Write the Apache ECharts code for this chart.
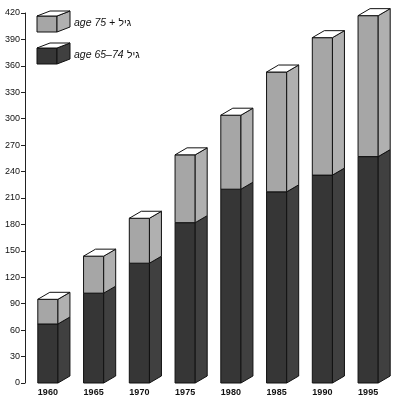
<!DOCTYPE html>
<html>
<head>
<meta charset="utf-8">
<script src="https://cdn.jsdelivr.net/npm/echarts@6/dist/echarts.min.js"></script>
<style>
  html, body { margin: 0; padding: 0; background: #fff; }
  #chart { width: 400px; height: 399px; }
</style>
</head>
<body>
<div id="chart"></div>
<script>
// values (thousands of people)
const years = ['1960', '1965', '1970', '1975', '1980', '1985', '1990', '1995'];
const age65to74 = [67, 102, 136, 182, 220, 217, 236, 257];
const age75plus = [28, 42, 51, 77, 84, 136, 156, 160];
const yTicks = { min: 0, max: 420, interval: 30 };

const DARK = '#363636', DARK_SIDE = '#404040';
const LIGHT = '#a6a6a6', LIGHT_SIDE = '#b0b0b0';
const DX = 12, DY = -7;

function renderBar(params, api) {
  const i = api.value(0);
  const d = api.value(1);
  const l = api.value(2);
  const base = api.coord([i, 0]);
  const mid = api.coord([i, d]);
  const top = api.coord([i, d + l]);
  const w = api.size([1, 0])[0] * 0.44;
  const x0 = base[0] - w / 2, x1 = x0 + w;
  const stroke = { stroke: '#111', lineWidth: 1 };

  const seg = (yb, yt, front, side) => [
    { type: 'polygon', shape: { points: [[x0, yb], [x1, yb], [x1, yt], [x0, yt]] },
      style: Object.assign({ fill: front }, stroke) },
    { type: 'polygon', shape: { points: [[x1, yb], [x1 + DX, yb + DY], [x1 + DX, yt + DY], [x1, yt]] },
      style: Object.assign({ fill: side }, stroke) }
  ];

  const children = []
    .concat(seg(base[1], mid[1], DARK, DARK_SIDE))
    .concat(seg(mid[1], top[1], LIGHT, LIGHT_SIDE));
  children.push({
    type: 'polygon',
    shape: { points: [[x0, top[1]], [x1, top[1]], [x1 + DX, top[1] + DY], [x0 + DX, top[1] + DY]] },
    style: Object.assign({ fill: '#fff' }, stroke)
  });
  return { type: 'group', children: children };
}

function legendBox(x, y, front, side) {
  const w = 20, h = 16, dx = 13, dy = -5;
  return {
    type: 'group', silent: true,
    children: [
      { type: 'polygon', shape: { points: [[x, y], [x + w, y], [x + w, y + h], [x, y + h]] },
        style: { fill: front, stroke: '#111', lineWidth: 1 } },
      { type: 'polygon', shape: { points: [[x + w, y], [x + w + dx, y + dy], [x + w + dx, y + h + dy], [x + w, y + h]] },
        style: { fill: side, stroke: '#111', lineWidth: 1 } },
      { type: 'polygon', shape: { points: [[x, y], [x + w, y], [x + w + dx, y + dy], [x + dx, y + dy]] },
        style: { fill: '#fff', stroke: '#111', lineWidth: 1 } }
    ]
  };
}

const legendRich = {
  en: { fontSize: 10.5, fontStyle: 'italic', fontFamily: 'Liberation Sans', fill: '#111' },
  he: { fontSize: 10.5, fontFamily: 'Liberation Sans', fill: '#111' }
};

const chart = echarts.init(document.getElementById('chart'));
chart.setOption({
  animation: false,
  grid: { left: 25, right: 9, top: 13, bottom: 16, containLabel: false },
  xAxis: {
    type: 'category',
    data: years,
    axisLine: { show: false },
    axisTick: { show: false },
    axisLabel: { color: '#111', fontSize: 9, fontWeight: 'bold', fontFamily: 'Liberation Sans', margin: 5 }
  },
  yAxis: {
    type: 'value',
    min: yTicks.min, max: yTicks.max, interval: yTicks.interval,
    axisLine: { show: true, lineStyle: { color: '#222', width: 1 } },
    axisTick: { show: true, length: 4, lineStyle: { color: '#222' } },
    axisLabel: { color: '#111', fontSize: 9, fontFamily: 'Liberation Sans', margin: 5 },
    splitLine: { show: false }
  },
  series: [{
    type: 'custom',
    clip: false,
    silent: true,
    renderItem: renderBar,
    encode: { x: 0, y: [1, 2] },
    data: years.map((y, i) => [i, age65to74[i], age75plus[i]])
  }],
  graphic: [
    legendBox(37, 16, LIGHT, LIGHT_SIDE),
    legendBox(37, 48, DARK, DARK_SIDE),
    { type: 'text', left: 74, top: 17, silent: true,
      style: { text: '{en|age 75 +} {he|גיל}', rich: legendRich } },
    { type: 'text', left: 74, top: 49, silent: true,
      style: { text: '{en|age 65–74} {he|גיל}', rich: legendRich } }
  ]
});
</script>
</body>
</html>
